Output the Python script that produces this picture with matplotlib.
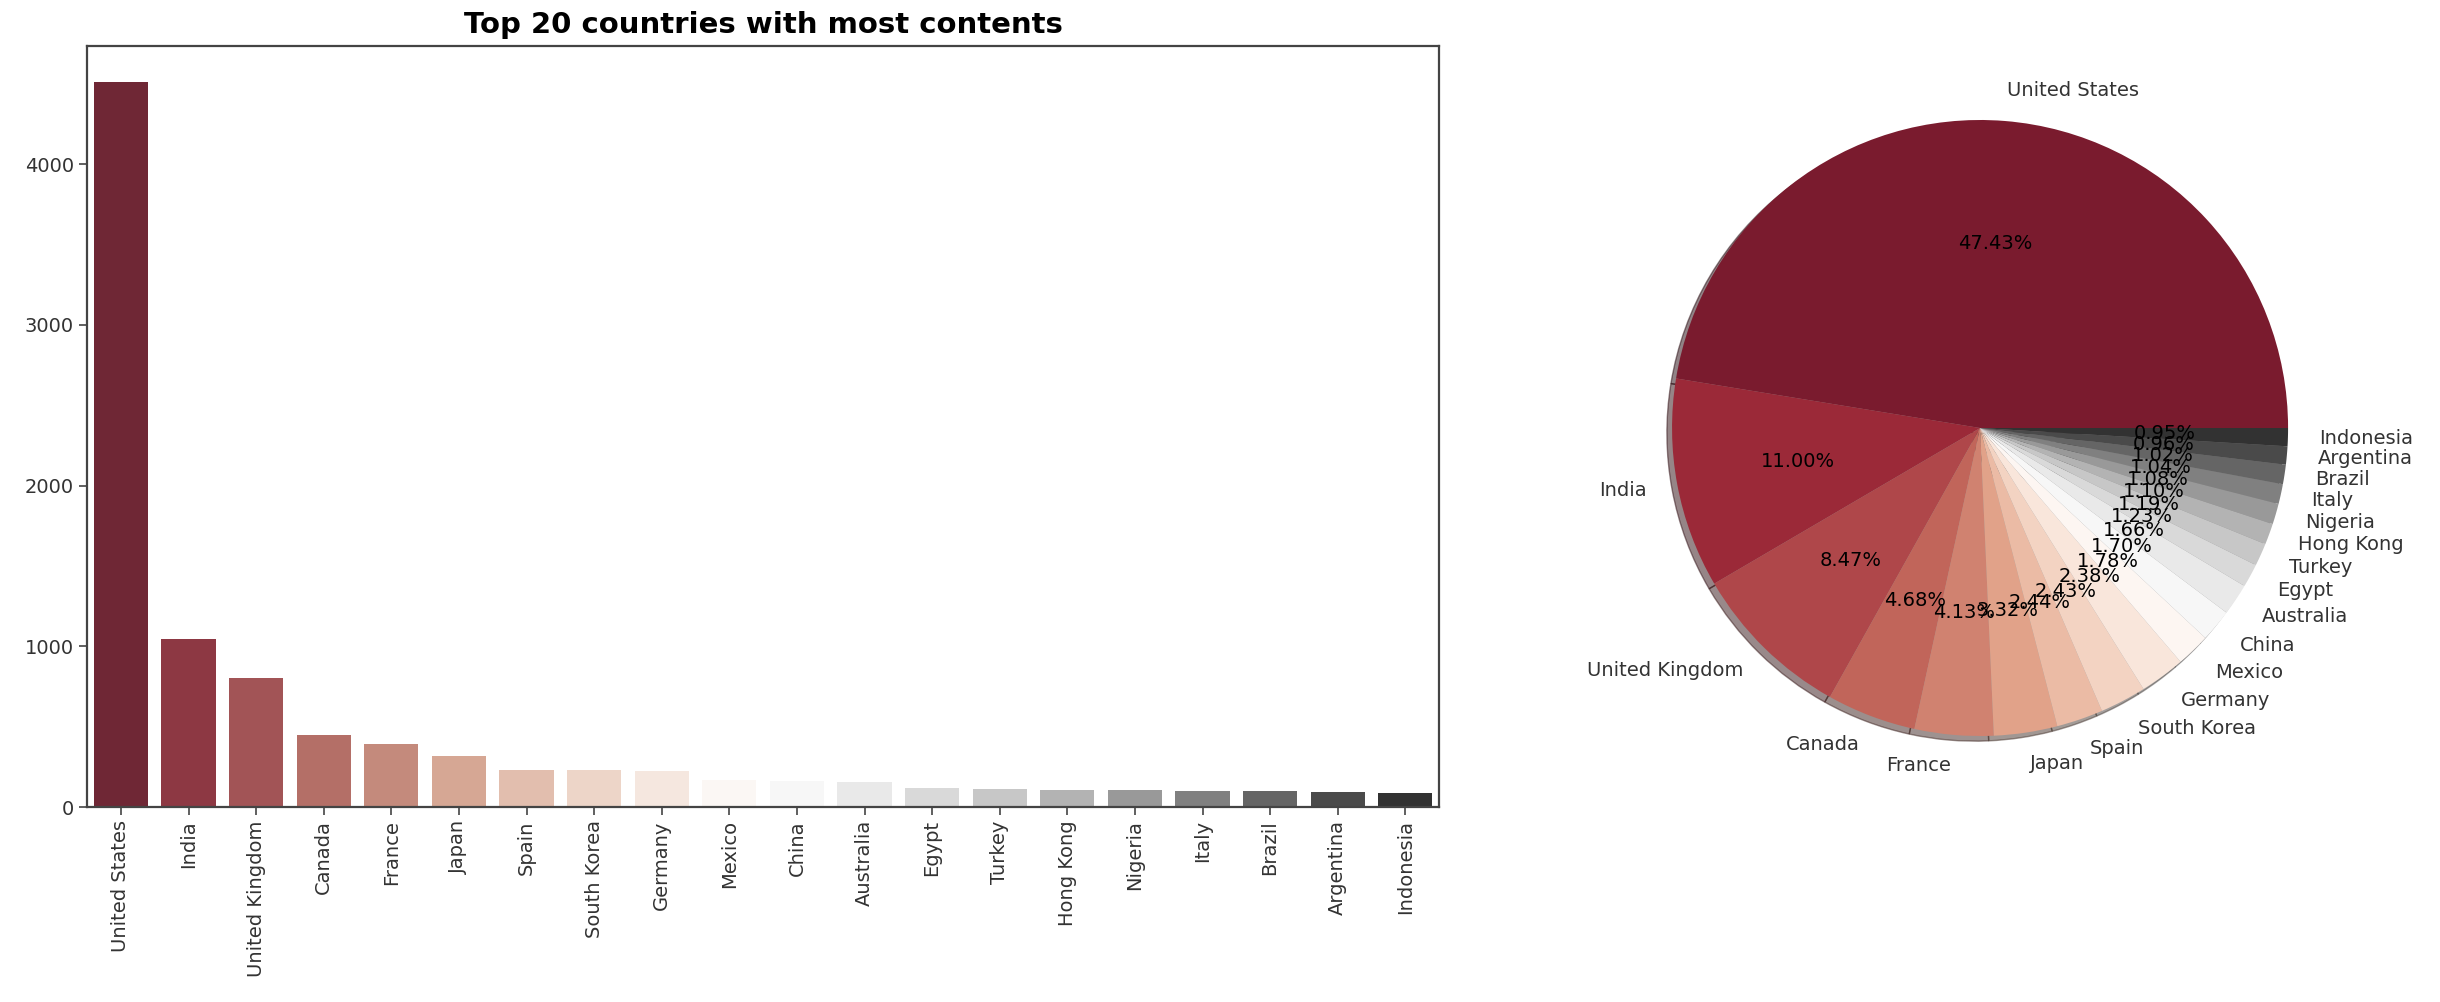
import numpy as np
import matplotlib
matplotlib.use('Agg')
import matplotlib.pyplot as plt
import seaborn as sns

# Top 20 countries and their number of titles
countries = ['United States', 'India', 'United Kingdom', 'Canada', 'France',
             'Japan', 'Spain', 'South Korea', 'Germany', 'Mexico', 'China',
             'Australia', 'Egypt', 'Turkey', 'Hong Kong', 'Nigeria', 'Italy',
             'Brazil', 'Argentina', 'Indonesia']
counts = [4509, 1046, 805, 445, 393, 316, 232, 231, 226, 169, 162,
          158, 117, 113, 105, 103, 99, 97, 91, 90]
y_ticks = [0, 1000, 2000, 3000, 4000]

# palette used for the pie, bars are desaturated once more (seaborn default)
palette = sns.color_palette('RdGy', len(countries), desat=0.75)
bar_colors = [sns.desaturate(c, 0.75) for c in palette]

fig = plt.figure(figsize=(24.4, 10.02), dpi=100)

# Bar chart
ax1 = fig.add_axes([0.0357, 0.1946, 0.5541, 0.7595])
x = np.arange(len(countries))
ax1.bar(x, counts, width=0.8, color=bar_colors)
ax1.set_xlim(-0.5, len(countries) - 0.5)
ax1.set_xticks(x)
ax1.set_xticklabels(countries, rotation=90)
ax1.set_yticks(y_ticks)
ax1.tick_params(labelsize=14, length=6, width=1.2, color='#444444',
                labelcolor='#333333')
ax1.set_title('Top 20 countries with most contents', fontsize=21,
              fontweight='bold', pad=9)
for s in ax1.spines.values():
    s.set_linewidth(1.6)
    s.set_color('#444444')

# Pie chart
ax2 = fig.add_axes([0.6537, 0.1886, 0.3156, 0.7685])
wedges, texts, autotexts = ax2.pie(counts, labels=countries, colors=palette,
                                   autopct='%.2f%%',
                                   shadow={'ox': -0.012, 'oy': -0.012},
                                   textprops={'fontsize': 14})
for t in texts:
    t.set_color('#333333')

fig.savefig('out.png', dpi=100)
